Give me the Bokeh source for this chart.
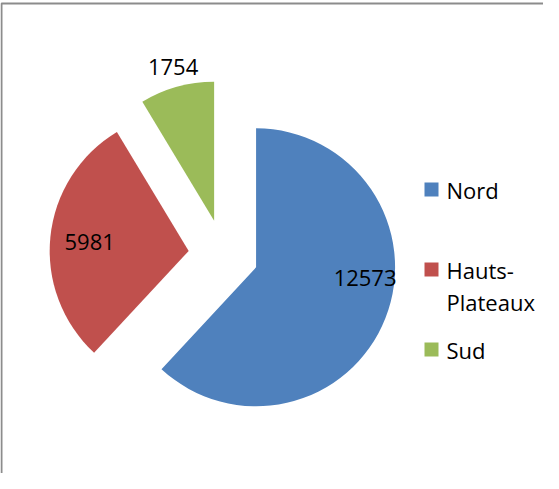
import math
from bokeh.plotting import figure
from bokeh.models import Range1d
from bokeh.core.properties import value
from bokeh.embed import file_html
from bokeh.resources import INLINE

# ---- data ----
categories = ["Nord", "Hauts-Plateaux", "Sud"]
values = [12573, 5981, 1754]
legend_labels = ["Nord", "Hauts-\nPlateaux", "Sud"]
colors = ["#4F81BD", "#C0504D", "#9BBB59"]

W, H = 543, 473


def px(x):
    return x - 8


def py(y):
    return H + 8 - y


p = figure(width=W, height=H, output_backend="svg", toolbar_location=None,
           x_range=Range1d(0, W), y_range=Range1d(0, H),
           x_axis_location=None, y_axis_location=None, min_border=0)
p.grid.visible = False
p.outline_line_color = None
p.background_fill_color = "white"

# chart area border (extends past the window on right/bottom)
p.quad(left=[px(9)], right=[px(900)], top=[py(11)], bottom=[py(900)],
       fill_color=None, line_color="#8c8c8c", line_width=2)

total = sum(values)
cx, cy = px(231), py(262)
radius = 139
explode = 35
font = value("Open Sans")

cum = 0.0
# label offset from slice apex (pixels, x right / y up)
label_offsets = [(109, -11), (-99, 9), (-41, 154)]
for val, col, (lx, ly) in zip(values, colors, label_offsets):
    a0 = cum / total * 2 * math.pi
    cum += val
    a1 = cum / total * 2 * math.pi
    start = math.pi / 2 - a1
    end = math.pi / 2 - a0
    mid = (start + end) / 2
    ox = cx + explode * math.cos(mid)
    oy = cy + explode * math.sin(mid)
    p.wedge(x=[ox], y=[oy], radius=radius, start_angle=start, end_angle=end,
            fill_color=col, line_color=None)
    p.text(x=[ox + lx], y=[oy + ly], text=[str(val)], text_font=font,
           text_font_size="22px", text_align="center", text_baseline="middle",
           text_color="#000000")

# legend
sq_y = [197, 277, 357]
for lab, col, yy in zip(legend_labels, colors, sq_y):
    p.rect(x=[px(439)], y=[py(yy)], width=14, height=14, fill_color=col, line_color=None)
    for i, line in enumerate(lab.split("\n")):
        p.text(x=[px(454)], y=[py(yy + 32 * i)], text=[line], text_font=font,
               text_font_size="22px", text_align="left", text_baseline="middle",
               text_color="#000000")

open("out.html", "w").write(file_html(p, INLINE))
